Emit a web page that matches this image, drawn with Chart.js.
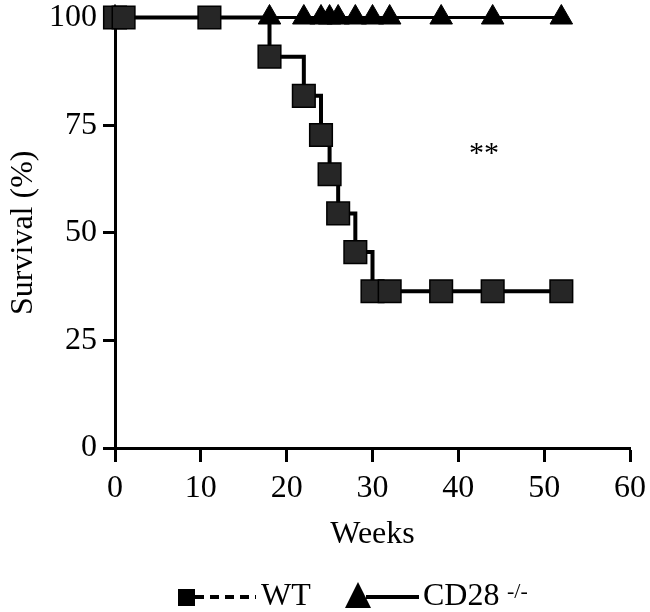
<!DOCTYPE html>
<html>
<head>
<meta charset="utf-8">
<script src="https://cdn.jsdelivr.net/npm/chart.js@4"></script>
<style>
  body { margin: 0; background: #fff; }
  canvas { display: block; }
</style>
</head>
<body>
<canvas id="survivalChart" width="650" height="612"></canvas>
<script>
// survival curves (Kaplan-Meier style)
const wtWeeks = [0, 1, 11, 18, 22, 24, 25, 26, 28, 30, 32, 38, 44, 52];
const wtSurvival = [100, 100, 100, 90.9, 81.8, 72.7, 63.6, 54.5, 45.5, 36.4, 36.4, 36.4, 36.4, 36.4];
const cd28Weeks = [0, 18, 22, 24, 25, 26, 28, 30, 32, 38, 44, 52];
const cd28Survival = [100, 100, 100, 100, 100, 100, 100, 100, 100, 100, 100, 100];
const xTicks = [0, 10, 20, 30, 40, 50, 60];
const yTicks = [0, 25, 50, 75, 100];
const sigLabel = '**';
const sigAt = [43, 69]; // weeks, %

const serif = '"Liberation Serif", "Times New Roman", serif';

function toPoints(xs, ys) {
    return xs.map((x, i) => ({ x: x, y: ys[i] }));
}

// star annotation + legend drawn by hand (legend uses a dashed WT line)
const extras = {
    id: 'extras',
    afterDraw(chart) {
        const ctx = chart.ctx;
        const xs = chart.scales.x, ys = chart.scales.y;
        ctx.save();
        ctx.fillStyle = '#000';
        ctx.font = '30px ' + serif;
        ctx.textAlign = 'center';
        ctx.textBaseline = 'middle';
        ctx.fillText(sigLabel, xs.getPixelForValue(sigAt[0]), ys.getPixelForValue(sigAt[1]) + 3);

        // legend
        const ly = 597;
        ctx.fillRect(178, 589, 17, 17);
        ctx.strokeStyle = '#000';
        ctx.lineWidth = 4;
        ctx.setLineDash([9, 6]);
        ctx.beginPath();
        ctx.moveTo(195, ly);
        ctx.lineTo(256, ly);
        ctx.stroke();
        ctx.setLineDash([]);
        ctx.textAlign = 'left';
        ctx.textBaseline = 'alphabetic';
        ctx.font = '32px ' + serif;
        ctx.fillText('WT', 261, 605);

        ctx.beginPath();
        ctx.moveTo(358, 582);
        ctx.lineTo(371, 608);
        ctx.lineTo(345, 608);
        ctx.closePath();
        ctx.fill();
        ctx.beginPath();
        ctx.moveTo(366, ly);
        ctx.lineTo(419, ly);
        ctx.stroke();
        ctx.fillText('CD28', 423, 605);
        ctx.font = '22px ' + serif;
        ctx.fillText('-/-', 507, 598);
        ctx.restore();
    }
};

const ctx = document.getElementById('survivalChart').getContext('2d');
new Chart(ctx, {
    type: 'line',
    data: {
        datasets: [{
            label: 'WT',
            data: toPoints(wtWeeks, wtSurvival),
            stepped: 'before',
            borderColor: '#000',
            borderWidth: 4,
            pointStyle: 'rect',
            pointRadius: 16,
            pointBackgroundColor: '#262626',
            pointBorderColor: '#000',
            pointBorderWidth: 1.5,
            clip: false
        }, {
            label: 'CD28 -/-',
            data: toPoints(cd28Weeks, cd28Survival),
            borderColor: '#000',
            borderWidth: 3,
            pointStyle: 'triangle',
            pointRadius: 13,
            pointBackgroundColor: '#000',
            pointBorderColor: '#000',
            pointBorderWidth: 1,
            clip: false
        }]
    },
    options: {
        responsive: false,
        animation: false,
        events: [],
        layout: { padding: { top: 14, right: 20, left: 0, bottom: 0 } },
        plugins: { legend: { display: false }, tooltip: { enabled: false } },
        scales: {
            x: {
                type: 'linear',
                min: 0, max: 60,
                afterBuildTicks: s => { s.ticks = xTicks.map(v => ({ value: v })); },
                afterFit: s => { s.height = 164; s.paddingLeft = 0; s.paddingRight = 0; },
                grid: { drawOnChartArea: false, tickLength: 14, tickColor: '#000', tickWidth: 3 },
                border: { color: '#000', width: 3 },
                ticks: { color: '#000', font: { family: serif, size: 32 }, padding: 7, maxRotation: 0 },
                title: { display: true, text: 'Weeks', color: '#000', font: { family: serif, size: 32 }, padding: { top: 0, bottom: 58 } }
            },
            y: {
                min: 0, max: 100,
                afterBuildTicks: s => { s.ticks = yTicks.map(v => ({ value: v })); },
                afterFit: s => { s.width = 115; s.paddingTop = 0; s.paddingBottom = 0; },
                grid: { drawOnChartArea: false, tickLength: 12, tickColor: '#000', tickWidth: 3 },
                border: { color: '#000', width: 3 },
                ticks: { color: '#000', font: { family: serif, size: 32 }, padding: 6 },
                title: { display: true, text: 'Survival (%)', color: '#000', font: { family: serif, size: 32 }, padding: { top: 4, bottom: 0 } }
            }
        }
    },
    plugins: [extras]
});
</script>
</body>
</html>
